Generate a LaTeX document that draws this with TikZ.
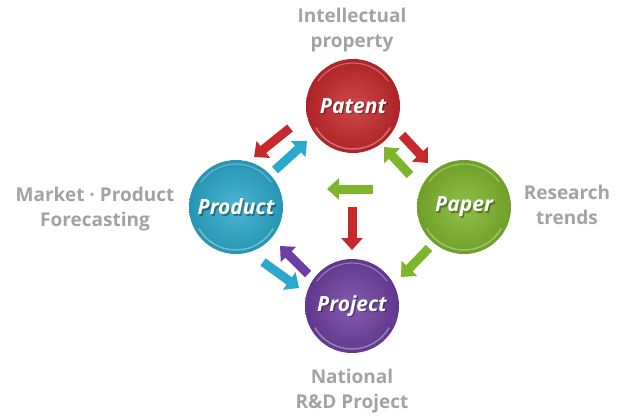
\documentclass[tikz,border=0pt]{standalone}
\usepackage{fontspec}
\setmainfont{Open Sans}
\usetikzlibrary{arrows.meta}
\definecolor{cred}{HTML}{C6282B}
\definecolor{cblue}{HTML}{2BA9CC}
\definecolor{cgreen}{HTML}{7DB52B}
\definecolor{cpurple}{HTML}{6E3FA0}
\definecolor{lblgray}{HTML}{A3A3A3}
\tikzset{
  ball/.style={circle, minimum size=94pt, inner sep=0pt, shading=radial,
    inner color=#1!85!white, outer color=#1!88!black},
  balltext/.style={font=\fontsize{21}{21}\selectfont\bfseries\itshape},
  lbl/.style={font=\fontsize{19}{25}\selectfont\bfseries, text=lblgray, align=center},
  blockarrow/.style={draw=#1, line width=9pt,
    -{Triangle[width=21pt,length=12pt]}},
}
\begin{document}
\begin{tikzpicture}[x=1pt,y=-1pt]
\useasboundingbox (0,0) rectangle (620,417);
% circles
\node[ball=cred] (patent) at (353,106) {};
\node[ball=cblue] (product) at (236,207) {};
\node[ball=cgreen] (paper) at (464,207) {};
\node[ball=cpurple] (project) at (352,306) {};
% gloss rims
\foreach \n in {patent,product,paper,project}{
  \draw[white, opacity=0.35, line width=1.5pt] (\n.center) ++(150:43) arc[start angle=150, end angle=30, radius=43];
  \draw[white, opacity=0.3, line width=1.2pt] (\n.center) ++(215:43) arc[start angle=215, end angle=325, radius=43];
}
% texts with shadow
\foreach \n/\t in {patent/Patent,product/Product,paper/Paper,project/Project}{
  \node[balltext, text=black, opacity=0.35] at ([shift={(1.5,1.5)}]\n.center) {\t};
  \node[balltext, text=white] (\n t) at (\n.center) {\t};
}
% labels
\node[lbl] (l1) at (352,30) {Intellectual\\property};
\node[lbl] (l2) at (95,209) {Market · Product\\Forecasting};
\node[lbl] (l3) at (567,205) {Research\\trends};
\node[lbl] (l4) at (352,391) {National\\R\&D Project};
% arrow coordinates
\coordinate (a1s) at (290,128); \coordinate (a1e) at (254,157);
\coordinate (a2s) at (275,170); \coordinate (a2e) at (307,141);
\coordinate (a3s) at (402,135); \coordinate (a3e) at (428,163);
\coordinate (a4s) at (410,175); \coordinate (a4e) at (384,147);
\coordinate (a5s) at (373,189); \coordinate (a5e) at (327,189);
\coordinate (a6s) at (352,207); \coordinate (a6e) at (352,250);
\coordinate (a7s) at (429,248); \coordinate (a7e) at (401,277);
\coordinate (a8s) at (308,274); \coordinate (a8e) at (280,246);
\coordinate (a9s) at (263,262); \coordinate (a9e) at (299,288);
% arrows
\draw[blockarrow=cred] (a1s) -- (a1e);
\draw[blockarrow=cblue] (a2s) -- (a2e);
\draw[blockarrow=cred] (a3s) -- (a3e);
\draw[blockarrow=cgreen] (a4s) -- (a4e);
\draw[blockarrow=cgreen] (a5s) -- (a5e);
\draw[blockarrow=cred] (a6s) -- (a6e);
\draw[blockarrow=cgreen] (a7s) -- (a7e);
\draw[blockarrow=cpurple] (a8s) -- (a8e);
\draw[blockarrow=cblue] (a9s) -- (a9e);
\end{tikzpicture}
\end{document}
